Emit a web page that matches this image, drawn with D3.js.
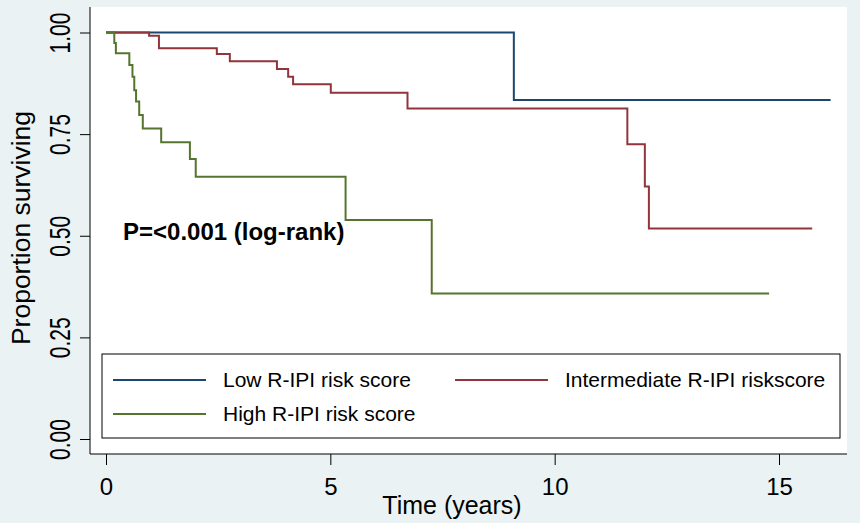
<!DOCTYPE html>
<html>
<head>
<meta charset="utf-8">
<script src="https://cdn.jsdelivr.net/npm/d3@7"></script>
<style>
  body { margin: 0; background: #eaf2f3; }
  svg { display: block; font-family: "Liberation Sans", Arial, sans-serif; }
</style>
</head>
<body>
<svg id="chart" width="860" height="523"></svg>
<script>
const width = 860
const height = 523

// Kaplan-Meier steps
const lowTimes = [0, 9.09, 16.15]
const lowSurv = [1, 0.834, 0.834]

const midTimes = [0, 0.96, 1.18, 2.47, 2.76, 3.81, 4.06, 4.17, 5.01, 6.72, 11.62, 12.01, 12.10, 15.74]
const midSurv = [1, 0.992, 0.961, 0.947, 0.929, 0.910, 0.891, 0.873, 0.852, 0.813, 0.725, 0.621, 0.518, 0.518]

const highTimes = [0, 0.185, 0.22, 0.52, 0.59, 0.63, 0.67, 0.74, 0.82, 1.23, 1.87, 2.0, 5.34, 7.26, 14.78]
const highSurv = [1, 0.974, 0.949, 0.920, 0.891, 0.858, 0.830, 0.797, 0.764, 0.730, 0.689, 0.645, 0.539, 0.358, 0.358]

const groups = ['Low R-IPI risk score', 'Intermediate R-IPI riskscore', 'High R-IPI risk score']
const colors = ['#1a476f', '#90353b', '#55752f']

const xTicks = [0, 5, 10, 15]
const yTicks = [0, 0.25, 0.5, 0.75, 1]

const plot = { left: 90, right: 847, top: 7, bottom: 454 }

const x = d3.scaleLinear().domain([0, 15]).range([106, 779])
const y = d3.scaleLinear().domain([0, 1]).range([439, 32.5])

const svg = d3.select('#chart')

svg.append('rect')
  .attr('width', width).attr('height', height)
  .attr('fill', '#eaf2f3')

svg.append('rect')
  .attr('x', plot.left).attr('y', plot.top)
  .attr('width', plot.right - plot.left).attr('height', plot.bottom - plot.top)
  .attr('fill', '#fff')

// y axis
const yAxis = svg.append('g')
  .attr('transform', `translate(${plot.left},0)`)
  .call(d3.axisLeft(y).tickValues(yTicks).tickSize(10).tickFormat(d3.format('.2f')))
yAxis.select('.domain').attr('d', `M0,${plot.top}V${plot.bottom}`).attr('stroke', '#000')
yAxis.selectAll('.tick line').attr('stroke', '#000')
yAxis.selectAll('.tick text')
  .attr('transform', 'translate(-20,0) rotate(-90) scale(1,1.4)')
  .attr('x', 0).attr('y', 0).attr('dy', 0)
  .attr('text-anchor', 'middle')
  .attr('font-size', 21)
  .attr('font-family', '"Liberation Sans", Arial, sans-serif')
  .attr('fill', '#000')

// x axis
const xAxis = svg.append('g')
  .attr('transform', `translate(0,${plot.bottom})`)
  .call(d3.axisBottom(x).tickValues(xTicks).tickSize(11))
xAxis.select('.domain').attr('d', `M${plot.left},0H${plot.right}`).attr('stroke', '#000')
xAxis.selectAll('.tick line').attr('stroke', '#000')
xAxis.selectAll('.tick text')
  .attr('y', 41).attr('dy', 0)
  .attr('font-size', 24)
  .attr('font-family', '"Liberation Sans", Arial, sans-serif')
  .attr('fill', '#000')

svg.append('text')
  .attr('x', 452).attr('y', 514)
  .attr('text-anchor', 'middle')
  .attr('font-size', 25)
  .text('Time (years)')

svg.append('text')
  .attr('transform', 'translate(30,228) rotate(-90)')
  .attr('text-anchor', 'middle')
  .attr('font-size', 26.5)
  .text('Proportion surviving')

// survival curves
const line = d3.line().x(d => x(d[0])).y(d => y(d[1])).curve(d3.curveStepAfter)
const series = [
  d3.zip(lowTimes, lowSurv),
  d3.zip(midTimes, midSurv),
  d3.zip(highTimes, highSurv)
]
svg.append('g')
  .selectAll('path')
  .data(series)
  .join('path')
  .attr('d', line)
  .attr('fill', 'none')
  .attr('stroke', (d, i) => colors[i])
  .attr('stroke-width', 2)

svg.append('text')
  .attr('x', 123).attr('y', 240)
  .attr('font-size', 24)
  .attr('font-weight', 'bold')
  .text('P=<0.001 (log-rank)')

// legend
const legend = svg.append('g')
legend.append('rect')
  .attr('x', 102).attr('y', 354)
  .attr('width', 738).attr('height', 84)
  .attr('fill', '#fff')
  .attr('stroke', '#000')
  .attr('stroke-width', 1)

const legendPos = [[113, 380], [455, 380], [113, 414]]
groups.forEach((g, i) => {
  const [lx, ly] = legendPos[i]
  legend.append('line')
    .attr('x1', lx).attr('x2', lx + 93)
    .attr('y1', ly).attr('y2', ly)
    .attr('stroke', colors[i]).attr('stroke-width', 2)
  legend.append('text')
    .attr('x', lx + 110).attr('y', ly + 7)
    .attr('font-size', 21)
    .text(g)
})
</script>
</body>
</html>
